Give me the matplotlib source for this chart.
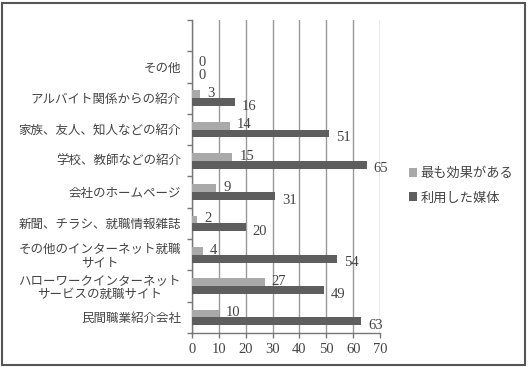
import matplotlib
matplotlib.use("Agg")
import matplotlib.pyplot as plt
from matplotlib.patches import Rectangle
import numpy as np

plt.rcParams['font.family'] = ['Liberation Serif', 'Noto Sans CJK JP']

categories = ["その他", "アルバイト関係からの紹介", "家族、友人、知人などの紹介",
              "学校、教師などの紹介", "会社のホームページ", "新聞、チラシ、就職情報雑誌",
              "その他のインターネット就職\nサイト", "ハローワークインターネット\nサービスの就職サイト",
              "民間職業紹介会社"]
most_effective = [0, 3, 14, 15, 9, 2, 4, 27, 10]
used_media = [0, 16, 51, 65, 31, 20, 54, 49, 63]
series_names = ["最も効果がある", "利用した媒体"]
xticks = [0, 10, 20, 30, 40, 50, 60, 70]

fig = plt.figure(figsize=(5.28, 3.67), dpi=100)
ax = fig.add_axes([192/528, 1-333/367, (380-192)/528, 313/367])

y = np.arange(1, len(categories) + 1)
h = 0.25
c_light = "#a9a9a9"
c_dark = "#5e5e5e"
b1 = ax.barh(y - h/2, most_effective, height=h, color=c_light, label=series_names[0], zorder=3)
b2 = ax.barh(y + h/2, used_media, height=h, color=c_dark, label=series_names[1], zorder=3)

for bars, vals, dy in ((b1, most_effective, 0.5), (b2, used_media, -3)):
    for rect, v in zip(bars, vals):
        ax.annotate(str(v), (rect.get_width(), rect.get_y() + rect.get_height()/2),
                    xytext=(5, dy), textcoords="offset points", ha="left", va="center",
                    fontsize=10.5, color="#444444", zorder=4)

ax.set_xlim(0, 70)
ax.set_ylim(9.5, -0.5)
ax.set_xticks(xticks)
ax.set_xticklabels([str(t) for t in xticks], fontsize=10.5, color="#444444")
ax.set_yticks(y)
ax.set_yticklabels(categories, fontsize=9, color="#444444", multialignment="center",
                   linespacing=1.15)
ax.set_yticks(np.arange(-0.5, 10.0, 1.0), minor=True)
ax.tick_params(axis="y", which="major", length=0, pad=8)
ax.tick_params(axis="y", which="minor", length=3.5, color="#777777", width=1)
ax.tick_params(axis="x", which="major", length=3.5, color="#777777", width=1, pad=4)

ax.grid(axis="x", color="#999999", linewidth=1, zorder=0)
ax.set_axisbelow(True)
for s in ("top", "right"):
    ax.spines[s].set_visible(False)
for s in ("left", "bottom"):
    ax.spines[s].set_color("#777777")
    ax.spines[s].set_linewidth(1)

fig.legend(handles=[b1, b2], labels=series_names, loc="center left",
           bbox_to_anchor=(397/528, 1-186/367), frameon=False, fontsize=9.5,
           handlelength=0.6, handleheight=0.6, handletextpad=0.3, labelspacing=0.9,
           labelcolor="#444444")

fig.patches.append(Rectangle((2/528, 2/367), 523/528, 362/367, transform=fig.transFigure,
                             fill=False, edgecolor="#555555", linewidth=1.5))

fig.savefig("out.png", dpi=100)
